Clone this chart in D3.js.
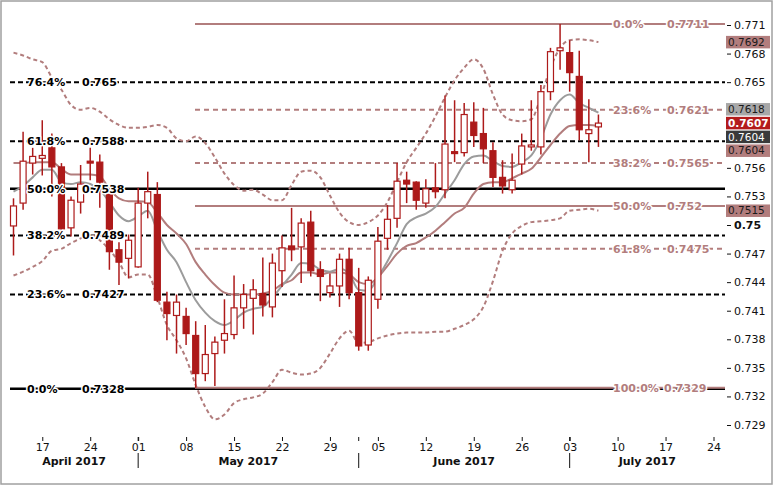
<!DOCTYPE html>
<html>
<head>
<meta charset="utf-8">
<script src="https://cdn.jsdelivr.net/npm/d3@7"></script>
<style>
body { margin: 0; background: #fff; }
text { font-family: "DejaVu Sans", Verdana, sans-serif; font-size: 11px; }
.halo { paint-order: stroke; stroke: #fff; stroke-width: 3px; stroke-linejoin: round; }
</style>
</head>
<body>
<div id="chart"></div>
<script>
// daily candles, AUD/USD style
var dates = ["2017-04-12","2017-04-13","2017-04-14","2017-04-17","2017-04-18","2017-04-19","2017-04-20","2017-04-21",
  "2017-04-24","2017-04-25","2017-04-26","2017-04-27","2017-04-28",
  "2017-05-01","2017-05-02","2017-05-03","2017-05-04","2017-05-05","2017-05-08","2017-05-09","2017-05-10","2017-05-11","2017-05-12",
  "2017-05-15","2017-05-16","2017-05-17","2017-05-18","2017-05-19","2017-05-22","2017-05-23","2017-05-24","2017-05-25","2017-05-26",
  "2017-05-29","2017-05-30","2017-05-31",
  "2017-06-01","2017-06-02","2017-06-05","2017-06-06","2017-06-07","2017-06-08","2017-06-09","2017-06-12","2017-06-13","2017-06-14",
  "2017-06-15","2017-06-16","2017-06-19","2017-06-20","2017-06-21","2017-06-22","2017-06-23","2017-06-26","2017-06-27","2017-06-28",
  "2017-06-29","2017-06-30",
  "2017-07-03","2017-07-04","2017-07-05","2017-07-06"];

var open  = [0.7499,0.7523,0.7565,0.7570,0.7581,0.7561,0.7497,0.7524,0.7567,0.7566,0.7532,0.7474,0.7465,
  0.7456,0.7523,0.7532,0.7419,0.7405,0.7404,0.7384,0.7344,0.7365,0.7379,0.7385,0.7413,0.7423,0.7428,0.7414,
  0.7452,0.7478,0.7477,0.7503,0.7453,0.7429,0.7436,0.7464,
  0.7429,0.7374,0.7422,0.7486,0.7507,0.7547,0.7545,0.7523,0.7539,0.7537,0.7577,0.7576,0.7608,0.7596,0.7578,
  0.7550,0.7537,0.7564,0.7582,0.7582,0.7640,0.7683,
  0.7681,0.7656,0.7596,0.7603];
var high  = [0.7528,0.7598,0.7581,0.7610,0.7596,0.7565,0.7530,0.7563,0.7581,0.7574,0.7542,0.7482,0.7490,
  0.7539,0.7556,0.7545,0.7430,0.7427,0.7413,0.7399,0.7395,0.7383,0.7422,0.7447,0.7438,0.7443,0.7466,0.7470,
  0.7489,0.7518,0.7507,0.7515,0.7462,0.7449,0.7470,0.7476,
  0.7455,0.7446,0.7498,0.7521,0.7565,0.7556,0.7546,0.7548,0.7565,0.7636,0.7631,0.7628,0.7629,0.7623,0.7587,
  0.7568,0.7575,0.7596,0.7631,0.7647,0.7686,0.7711,
  0.7694,0.7683,0.7632,0.7616];
var low   = [0.7468,0.7516,0.7553,0.7552,0.7530,0.7493,0.7488,0.7512,0.7547,0.7518,0.7453,0.7437,0.7444,
  0.7455,0.7507,0.7419,0.7379,0.7365,0.7374,0.7329,0.7336,0.7331,0.7365,0.7380,0.7391,0.7385,0.7404,0.7403,
  0.7435,0.7462,0.7439,0.7446,0.7420,0.7424,0.7414,0.7422,
  0.7368,0.7368,0.7412,0.7474,0.7497,0.7523,0.7516,0.7518,0.7528,0.7528,0.7566,0.7572,0.7582,0.7565,0.7540,
  0.7533,0.7533,0.7553,0.7578,0.7574,0.7631,0.7663,
  0.7640,0.7589,0.7566,0.7582];
var close = [0.7520,0.7567,0.7572,0.7573,0.7561,0.7496,0.7526,0.7543,0.7565,0.7545,0.7472,0.7461,0.7484,
  0.7523,0.7535,0.7421,0.7407,0.7419,0.7386,0.7344,0.7364,0.7377,0.7386,0.7413,0.7427,0.7432,0.7416,0.7460,
  0.7476,0.7474,0.7502,0.7452,0.7446,0.7436,0.7464,0.7429,
  0.7373,0.7442,0.7483,0.7506,0.7546,0.7543,0.7526,0.7538,0.7535,0.7585,0.7575,0.7616,0.7594,0.7580,0.7550,
  0.7541,0.7547,0.7583,0.7584,0.7640,0.7682,0.7686,
  0.7660,0.7600,0.7600,0.7607];

// indicator values
var maFast = [0.7535,0.7541,0.7550,0.7558,0.7558,0.7545,0.7543,0.7545,0.7543,0.7537,0.7524,0.7510,0.7504,
  0.7509,0.7515,0.7494,0.7474,0.7461,0.7440,0.7421,0.7408,0.7399,0.7395,0.7400,0.7408,0.7412,0.7414,0.7424,
  0.7436,0.7448,0.7460,0.7459,0.7453,0.7451,0.7454,0.7449,
  0.7432,0.7431,0.7445,0.7462,0.7481,0.7501,0.7508,0.7512,0.7519,0.7533,0.7547,0.7564,0.7572,0.7573,0.7567,
  0.7562,0.7561,0.7566,0.7573,0.7591,0.7616,0.7631,
  0.7637,0.7628,0.7623,0.7618];
var maSlow = [0.7565,0.7565,0.7566,0.7566,0.7566,0.7559,0.7553,0.7553,0.7553,0.7551,0.7538,0.7528,0.7525,
  0.7525,0.7524,0.7513,0.7500,0.7491,0.7480,0.7461,0.7448,0.7437,0.7429,0.7427,0.7427,0.7427,0.7428,0.7431,
  0.7438,0.7442,0.7450,0.7450,0.7448,0.7450,0.7450,0.7448,
  0.7440,0.7438,0.7445,0.7457,0.7470,0.7478,0.7481,0.7487,0.7494,0.7503,0.7512,0.7518,0.7533,0.7543,0.7545,
  0.7545,0.7549,0.7554,0.7559,0.7571,0.7584,0.7596,
  0.7604,0.7605,0.7605,0.7604];
var bandUpper = [0.7681,0.7678,0.7674,0.7671,0.7655,0.7642,0.7626,0.7621,0.7623,0.7619,0.7611,0.7605,0.7602,
  0.7602,0.7603,0.7605,0.7602,0.7591,0.7588,0.7593,0.7586,0.7571,0.7554,0.7542,0.7536,0.7537,0.7532,0.7526,
  0.7526,0.7542,0.7556,0.7557,0.7550,0.7531,0.7513,0.7503,
  0.7500,0.7503,0.7510,0.7524,0.7545,0.7566,0.7581,0.7596,0.7614,0.7634,0.7652,0.7665,0.7674,0.7664,0.7637,
  0.7616,0.7610,0.7609,0.7611,0.7635,0.7665,0.7686,
  0.7694,0.7695,0.7694,0.7692];
var bandLower = [0.7447,0.7451,0.7456,0.7462,0.7473,0.7475,0.7481,0.7486,0.7490,0.7484,0.7474,0.7461,0.7445,
  0.7448,0.7448,0.7424,0.7395,0.7379,0.7360,0.7332,0.7309,0.7296,0.7301,0.7313,0.7317,0.7319,0.7323,0.7335,
  0.7348,0.7345,0.7343,0.7344,0.7350,0.7365,0.7381,0.7389,
  0.7376,0.7377,0.7381,0.7384,0.7386,0.7387,0.7387,0.7387,0.7388,0.7388,0.7391,0.7395,0.7401,0.7414,0.7441,
  0.7473,0.7491,0.7499,0.7503,0.7504,0.7505,0.7507,
  0.7515,0.7516,0.7517,0.7515];

// fibonacci levels
var blackLevels = [0.765, 0.7588, 0.7538, 0.7489, 0.7427, 0.7328];
var blackPct = ["76.4%", "61.8%", "50.0%", "38.2%", "23.6%", "0.0%"];
var brownLevels = [0.7711, 0.7621, 0.7565, 0.752, 0.7475, 0.7329];
var brownPct = ["0.0%", "23.6%", "38.2%", "50.0%", "61.8%", "100.0%"];

// right side value boxes: upper band, fast ma, last close, other, slow ma, lower band
var boxValues = [0.7692, 0.7618, 0.7607, 0.7604, 0.7604, 0.7515];

var yTicks = [0.771, 0.768, 0.765, 0.762, 0.759, 0.756, 0.753, 0.75, 0.747, 0.744, 0.741, 0.738, 0.735, 0.732, 0.729];
var xTickDates = ["2017-04-17","2017-04-24","2017-05-01","2017-05-08","2017-05-15","2017-05-22","2017-05-29",
  "2017-06-05","2017-06-12","2017-06-19","2017-06-26","2017-07-03","2017-07-10","2017-07-17","2017-07-24"];
var monthNames = ["April 2017", "May 2017", "June 2017", "July 2017"];
var monthFirstDays = ["2017-04-03", "2017-05-01", "2017-06-01", "2017-07-03"];

var W = 774, H = 487;
var left = 10, right = 725;
var red = "#ad1a1a", brown = "#b27d7d";

var svg = d3.select("#chart").append("svg")
    .attr("width", W)
    .attr("height", H);

svg.append("rect")
    .attr("x", 1).attr("y", 1)
    .attr("width", W - 3).attr("height", H - 4)
    .attr("fill", "#fff")
    .attr("stroke", "#a0a0a0")
    .attr("stroke-width", 1.5);

// trading calendar (weekdays) so the axis can run past the last candle
var fmt = d3.timeFormat("%Y-%m-%d");
var parse = d3.timeParse("%Y-%m-%d");
var calendar = d3.timeDay.range(parse("2017-04-12"), parse("2017-07-29"))
    .filter(function(d) { return d.getDay() % 6 !== 0; })
    .map(fmt);
function idx(s) { return calendar.indexOf(s); }

var x = d3.scaleLinear()
    .domain([0, idx("2017-07-24")])
    .range([13.5, 713.5]);

var y = d3.scaleLinear()
    .domain([0.729, 0.771])
    .range([425, 25]);

var fmtLevel = function(v) { return String(+v.toFixed(4)); };

// black fib lines
var gBlack = svg.append("g");
blackLevels.forEach(function(v, k) {
  var solid = blackPct[k] === "0.0%" || blackPct[k] === "50.0%";
  gBlack.append("line")
      .attr("x1", left).attr("x2", right)
      .attr("y1", y(v)).attr("y2", y(v))
      .attr("stroke", "#000")
      .attr("stroke-width", solid ? 2.5 : 2)
      .attr("stroke-dasharray", solid ? null : "5,3");
});

// brown fib lines
var gBrown = svg.append("g");
brownLevels.forEach(function(v, k) {
  var solid = brownPct[k] === "0.0%" || brownPct[k] === "50.0%" || brownPct[k] === "100.0%";
  gBrown.append("line")
      .attr("x1", 195).attr("x2", right)
      .attr("y1", y(v)).attr("y2", y(v))
      .attr("stroke", brown)
      .attr("stroke-width", 2)
      .attr("stroke-dasharray", solid ? null : "5,4");
});

// indicator lines
var line = d3.line()
    .x(function(d, i) { return x(i); })
    .y(function(d) { return y(d); })
    .curve(d3.curveMonotoneX);

[bandUpper, bandLower].forEach(function(s) {
  svg.append("path")
      .datum(s)
      .attr("d", line)
      .attr("fill", "none")
      .attr("stroke", brown)
      .attr("stroke-width", 2)
      .attr("stroke-dasharray", "4,3");
});

svg.append("path")
    .datum(maSlow)
    .attr("d", line)
    .attr("fill", "none")
    .attr("stroke", brown)
    .attr("stroke-width", 2);

svg.append("path")
    .datum(maFast)
    .attr("d", line)
    .attr("fill", "none")
    .attr("stroke", "#9c9c9c")
    .attr("stroke-width", 2);

// candles
var gc = svg.append("g");
var n = dates.length;
var ci = d3.range(n).map(function(i) { return idx(dates[i]); });

gc.selectAll(".wick")
    .data(d3.range(n))
    .enter().append("line")
    .attr("class", "wick")
    .attr("x1", function(i) { return x(ci[i]); })
    .attr("x2", function(i) { return x(ci[i]); })
    .attr("y1", function(i) { return y(high[i]); })
    .attr("y2", function(i) { return y(low[i]); })
    .attr("stroke", red)
    .attr("stroke-width", 1.5);

gc.selectAll(".body")
    .data(d3.range(n))
    .enter().append("rect")
    .attr("class", "body")
    .attr("x", function(i) { return x(ci[i]) - 3; })
    .attr("width", 6)
    .attr("y", function(i) { return y(Math.max(open[i], close[i])); })
    .attr("height", function(i) { return Math.max(1.5, Math.abs(y(open[i]) - y(close[i]))); })
    .attr("fill", function(i) { return close[i] >= open[i] ? "#fff" : red; })
    .attr("stroke", red)
    .attr("stroke-width", 1.2);

// fib labels
blackLevels.forEach(function(v, k) {
  svg.append("text").attr("class", "halo")
      .attr("x", 27).attr("y", y(v)).attr("dy", "0.36em")
      .attr("font-weight", "bold").attr("fill", "#000")
      .text(blackPct[k]);
  svg.append("text").attr("class", "halo")
      .attr("x", 82).attr("y", y(v)).attr("dy", "0.36em")
      .attr("font-weight", "bold").attr("fill", "#000")
      .text(fmtLevel(v));
});
brownLevels.forEach(function(v, k) {
  svg.append("text").attr("class", "halo")
      .attr("x", 613).attr("y", y(v)).attr("dy", "0.36em")
      .attr("font-weight", "bold").attr("fill", brown)
      .text(brownPct[k]);
  svg.append("text").attr("class", "halo")
      .attr("x", brownPct[k].length > 5 ? 664 : 667).attr("y", y(v)).attr("dy", "0.36em")
      .attr("font-weight", "bold").attr("fill", brown)
      .text(fmtLevel(v));
});

// value boxes, stacked so they do not overlap (anchored on last close)
var boxStyle = [
  {bg: brown, fg: "#1a1a1a", bold: false},
  {bg: "#a8a8a8", fg: "#1a1a1a", bold: false},
  {bg: "#b31b1b", fg: "#fff", bold: true},
  {bg: "#3a3a3a", fg: "#fff", bold: false},
  {bg: brown, fg: "#1a1a1a", bold: false},
  {bg: brown, fg: "#1a1a1a", bold: false}
];
var bh = 12.5, gap = 13.8;
var by = boxValues.map(function(v) { return y(v); });
for (var k = 1; k >= 0; k--) by[k] = Math.min(by[k], by[k + 1] - gap);
for (var k = 3; k < by.length; k++) by[k] = Math.max(by[k], by[k - 1] + gap);

// right axis (labels hidden where a value box sits on top of them)
function underBox(t) {
  return by.some(function(b) { return Math.abs(y(t) - b) < 10; });
}
var yAxis = svg.append("g")
    .attr("transform", "translate(727,0)")
    .call(d3.axisRight(y).tickValues(yTicks).tickSize(4).tickPadding(3)
      .tickFormat(function(d) { return String(+d.toFixed(3)); }));
yAxis.select(".domain").remove();
yAxis.selectAll("text")
    .attr("fill", "#111")
    .style("font-family", "'DejaVu Sans', Verdana, sans-serif")
    .style("font-size", "11px")
    .attr("font-weight", function(d) { return d === 0.75 ? "bold" : null; });
yAxis.selectAll("text").filter(underBox).remove();
yAxis.selectAll("line").attr("stroke", "#111");

boxValues.forEach(function(v, k) {
  svg.append("rect")
      .attr("x", 726).attr("y", by[k] - bh / 2)
      .attr("width", 44).attr("height", bh)
      .attr("fill", boxStyle[k].bg);
  svg.append("text")
      .attr("x", 728).attr("y", by[k]).attr("dy", "0.36em")
      .attr("fill", boxStyle[k].fg)
      .attr("font-weight", boxStyle[k].bold ? "bold" : null)
      .style("font-size", "10.5px")
      .text(v.toFixed(4));
});

// bottom axis
var xAxis = svg.append("g")
    .attr("transform", "translate(0,437)")
    .call(d3.axisBottom(x).tickValues(xTickDates.map(idx)).tickSize(4).tickPadding(2)
      .tickFormat(function(i) { return d3.timeFormat("%d")(parse(calendar[i])); }));
xAxis.select(".domain").remove();
xAxis.selectAll("text")
    .attr("fill", "#111")
    .style("font-family", "'DejaVu Sans', Verdana, sans-serif")
    .style("font-size", "11px");
xAxis.selectAll("line").attr("stroke", "#111");

// month separators and labels
var sepX = monthFirstDays.map(function(s) { return idx(s) >= 0 ? x(idx(s)) : left; });
monthNames.forEach(function(m, k) {
  var x0 = sepX[k];
  var x1 = k + 1 < sepX.length ? sepX[k + 1] : right;
  if (k > 0) {
    svg.append("line")
        .attr("x1", x0).attr("x2", x0)
        .attr("y1", 453).attr("y2", 468)
        .attr("stroke", "#111").attr("stroke-width", 1);
    svg.append("line")
        .attr("x1", x0).attr("x2", x0)
        .attr("y1", 437).attr("y2", 441)
        .attr("stroke", "#111").attr("stroke-width", 1);
  }
  svg.append("text")
      .attr("x", (x0 + x1) / 2).attr("y", 461).attr("dy", "0.36em")
      .attr("text-anchor", "middle")
      .attr("font-weight", "bold")
      .attr("fill", "#111")
      .text(m);
});
</script>
</body>
</html>
